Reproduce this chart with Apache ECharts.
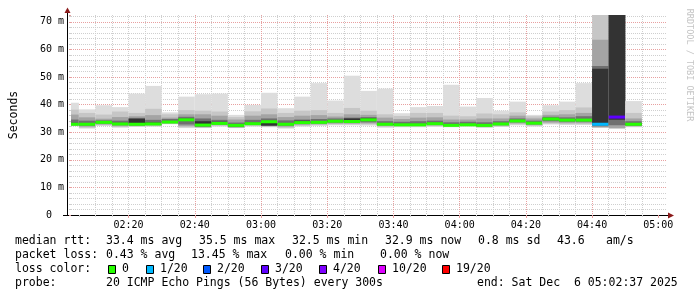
<!DOCTYPE html>
<html>
<head>
<meta charset="utf-8">
<script src="https://cdn.jsdelivr.net/npm/echarts@6/dist/echarts.min.js"></script>
<style>
html,body{margin:0;padding:0;background:#fff;}
#chart{width:697px;height:297px;}
</style>
</head>
<body>
<div id="chart"></div>
<script>
// ---- data ----
// each bar covers the 5 minutes ending at barEnd
const barEnd = ['02:05','02:10','02:15','02:20','02:25','02:30','02:35','02:40','02:45','02:50',
  '02:55','03:00','03:05','03:10','03:15','03:20','03:25','03:30','03:35','03:40',
  '03:45','03:50','03:55','04:00','04:05','04:10','04:15','04:20','04:25','04:30',
  '04:35','04:40','04:45','04:50','04:55'];
// median rtt (ms)
const median = [32.9,32.9,33.6,33.0,32.9,33.0,33.7,34.5,32.6,33.2,32.5,33.1,33.8,32.9,33.5,33.6,34.0,33.9,34.5,32.9,
  32.7,32.7,33.1,32.5,32.7,32.5,33.0,34.1,33.3,34.8,34.4,34.4,32.9,35.5,32.9];
// lost pings out of 20
const lossCount = [0,0,0,0,0,0,0,0,0,0,0,0,0,0,0,0,0,0,0,0,0,0,0,0,0,0,0,0,0,0,0,0,1,3,0];
// smoke layers (sorted ping ranges), outer -> inner (ms)
const smokeLo1 = [32.2,31.3,32.3,31.6,31.9,32.0,32.9,31.5,31.5,32.0,31.5,32.0,31.8,31.3,32.0,32.3,32.5,32.5,32.4,31.6,31.8,31.8,31.9,31.8,32.0,31.6,31.9,32.5,32.0,32.8,32.6,32.6,null,null,31.8];
const smokeHi1 = [40.7,38.3,39.8,39.1,44.0,46.8,37.2,42.9,43.8,44.0,36.3,39.9,44.3,38.7,42.9,47.8,41.5,50.5,45.0,45.8,36.9,39.1,39.5,47.2,39.3,42.4,37.8,41.1,36.3,39.8,41.1,47.8,null,null,41.3];
const smokeLo2 = [32.3,31.6,32.5,31.9,32.1,32.2,33.0,31.8,31.7,32.3,31.6,32.3,32.0,31.6,32.3,32.6,32.8,32.8,32.8,31.9,32.0,32.0,32.2,32.0,32.2,31.8,32.1,32.8,32.3,33.1,32.9,32.9,31.5,null,32.0];
const smokeHi2 = [38.2,37.0,36.4,37.5,37.0,38.5,36.5,38.0,37.8,37.5,35.5,37.6,38.6,37.0,37.8,38.0,37.0,38.8,37.8,36.5,35.9,37.0,37.0,36.0,35.8,36.8,36.5,37.2,35.8,37.5,38.0,39.0,76,null,37.0];
const smokeLo3 = [32.4,32.0,32.8,32.2,32.3,32.5,33.2,32.2,31.8,32.6,31.7,32.6,32.2,32.0,32.7,32.9,33.1,33.1,33.2,32.3,32.3,32.3,32.5,32.2,32.4,32.0,32.4,33.2,32.6,33.5,33.3,33.3,31.9,31.4,32.2];
const smokeHi3 = [36.4,35.4,34.9,35.5,35.8,36.2,35.3,36.5,36.5,36.0,34.6,36.0,36.5,35.5,36.0,36.2,35.7,36.5,36.3,35.3,34.8,35.3,35.4,34.6,34.6,35.0,35.0,36.0,35.0,36.3,36.5,37.0,63.5,76,35.0];
const smokeLo4 = [32.6,32.4,33.1,32.6,32.5,32.7,33.4,32.8,32.0,32.9,31.9,32.8,32.4,32.4,33.0,33.2,33.5,33.4,33.6,32.6,32.5,32.5,32.8,32.3,32.5,32.2,32.7,33.6,32.9,34.0,33.8,33.8,32.2,32.5,32.4];
const smokeHi4 = [34.6,34.2,34.3,34.2,35.2,34.5,34.8,35.6,35.0,34.5,33.5,34.5,35.0,34.3,34.6,34.8,35.0,35.3,35.5,34.0,33.8,34.0,34.2,33.6,33.8,33.6,34.0,35.0,34.2,35.6,35.4,35.8,54.0,76,34.0];
const smokeLo5 = [32.8,32.7,33.4,32.8,33.2,32.9,33.6,34.2,32.3,33.1,32.3,33.0,32.4,32.7,33.3,33.4,33.8,33.7,34.2,32.8,32.6,32.6,33.0,32.4,32.6,32.4,32.9,34.0,33.2,34.6,34.2,34.2,32.6,34.5,32.7];
const smokeHi5 = [33.4,33.2,33.9,33.4,34.9,33.5,34.0,34.9,34.0,33.8,32.8,33.4,33.9,33.2,34.2,33.9,34.4,35.0,35.0,33.2,33.0,33.0,33.4,32.8,33.0,32.8,33.3,34.4,33.6,35.0,34.7,34.8,53.0,76,33.1];
// loss legend
const lossLabels = ['0','1/20','2/20','3/20','4/20','10/20','19/20'];
const lossLimits = [0,1,2,3,4,10,19];
const lossColors = ['#26ff00','#00b8ff','#0059ff','#5e00ff','#7e00ff','#dd00ff','#ff0000'];
// tick labels
const xTickLabels = ['02:20','02:40','03:00','03:20','03:40','04:00','04:20','04:40','05:00'];
const yTickValues = [0,10,20,30,40,50,60,70];
const yTickLabels = ['0  ','10 m','20 m','30 m','40 m','50 m','60 m','70 m'];
const statLines = [
  [['median rtt:',16],['33.4 ms avg',107],['35.5 ms max',200],['32.5 ms min',293],['32.9 ms now',386],['0.8 ms sd',479],['43.6',558],['am/s',607]],
  [['packet loss:',16],['0.43 % avg',107],['13.45 % max',192],['0.00 % min',286],['0.00 % now',381]],
  [['loss color:',16]],
  [['probe:',16],['20 ICMP Echo Pings (56 Bytes) every 300s',107],['end: Sat Dec  6 05:02:37 2025',478]]
];

// ---- build ----
const MONO = '"DejaVu Sans Mono", "Liberation Mono", monospace';
const SMOKE_COLORS = ['#dddddd','#c6c6c6','#a4a4a4','#707070','#333333'];
// time in minutes after midnight
function tOf(hhmm){ const p = hhmm.split(':'); return (+p[0]) * 60 + (+p[1]); }
const tEnd = 5 * 60 + 2 + 37 / 60;     // 05:02:37
const tStart = tEnd - 180;
function lossColor(n){ for (let i = 0; i < lossLimits.length; i++) { if (n <= lossLimits[i]) return lossColors[i]; } return lossColors[lossColors.length-1]; }

const majorTicks = xTickLabels.map(tOf);
const minorTicks = [];
for (let t = Math.ceil(tStart / 5) * 5; t < tEnd; t += 5) minorTicks.push(t);

const data = barEnd.map((e, i) => {
  const t1 = tOf(e), t0 = t1 - 5;
  return [t0, t1, smokeLo1[i], smokeHi1[i], smokeLo2[i], smokeHi2[i], smokeLo3[i], smokeHi3[i],
          smokeLo4[i], smokeHi4[i], smokeLo5[i], smokeHi5[i], median[i], lossCount[i]];
});

function renderSmoke(params, api) {
  const t0 = api.value(0), t1 = api.value(1);
  const children = [];
  for (let k = 0; k < 5; k++) {
    const lo = api.value(2 + 2 * k), hi = api.value(3 + 2 * k);
    if (!isFinite(lo) || !isFinite(hi)) continue;
    const a = api.coord([t0, hi]), b = api.coord([t1, lo]);
    children.push({ type: 'rect', shape: { x: a[0], y: a[1], width: b[0] - a[0], height: b[1] - a[1] },
      style: { fill: SMOKE_COLORS[k] } });
  }
  const med = api.value(12), loss = api.value(13);
  const m0 = api.coord([t0, med]), m1 = api.coord([t1, med]);
  children.push({ type: 'rect', shape: { x: m0[0], y: m0[1] - 1.5, width: m1[0] - m0[0], height: 3 },
    style: { fill: lossColor(loss) } });
  return { type: 'group', children };
}

function pad(n){ return (n < 10 ? '0' : '') + n; }
function fmtTime(v){ const m = Math.round(v); return pad(Math.floor(m / 60)) + ':' + pad(m % 60); }

const graphics = [];
const lineY = [241, 255, 269, 283];
statLines.forEach((segs, li) => {
  segs.forEach(s => graphics.push({ type: 'text', silent: true, x: s[1] - 1, y: lineY[li],
    style: { text: s[0], font: '11.5px ' + MONO, fill: '#000', textVerticalAlign: 'middle', verticalAlign: 'middle' } }));
});
const boxX = [108, 146, 203, 261, 319, 378, 442];
lossLabels.forEach((lab, i) => {
  graphics.push({ type: 'rect', silent: true, shape: { x: boxX[i] + 0.5, y: 265.5, width: 7, height: 8 },
    style: { fill: lossColors[i], stroke: '#000', lineWidth: 1 } });
  graphics.push({ type: 'text', silent: true, x: boxX[i] + 14, y: 269,
    style: { text: lab, font: '11.5px ' + MONO, fill: '#000', textVerticalAlign: 'middle', verticalAlign: 'middle' } });
});
// axis extensions and arrow heads
graphics.push({ type: 'line', silent: true, shape: { x1: 67.5, y1: 215, x2: 67.5, y2: 12 }, style: { stroke: '#000', lineWidth: 1 } });
graphics.push({ type: 'line', silent: true, shape: { x1: 63, y1: 215.5, x2: 669, y2: 215.5 }, style: { stroke: '#000', lineWidth: 1 } });
graphics.push({ type: 'polygon', silent: true, shape: { points: [[67.5, 7.5], [64.5, 13], [70.5, 13]] }, style: { fill: '#8b1a1a' } });
graphics.push({ type: 'polygon', silent: true, shape: { points: [[674, 215.5], [668, 212.5], [668, 218.5]] }, style: { fill: '#8b1a1a' } });
graphics.push({ type: 'text', silent: true, x: 689, y: 65, rotation: -Math.PI / 2,
  style: { text: 'RRDTOOL / TOBI OETIKER', font: '8.5px ' + MONO, fill: '#c4c4c4', textAlign: 'center', align: 'center', textVerticalAlign: 'middle', verticalAlign: 'middle' } });

const MAJOR = '#e8a0a0', MINOR = '#cfcfcf';
const chart = echarts.init(document.getElementById('chart'), null, { renderer: 'canvas' });
chart.setOption({
  animation: false,
  backgroundColor: '#ffffff',
  grid: { left: 67, right: 30, top: 15, bottom: 82, containLabel: false },
  xAxis: [{
    type: 'value', min: tStart, max: tEnd, z: 1,
    axisLine: { show: false },
    axisTick: { show: true, length: 3, customValues: majorTicks, lineStyle: { color: MAJOR } },
    axisLabel: { show: true, margin: 5, fontFamily: MONO, fontSize: 10, color: '#000', customValues: majorTicks,
      hideOverlap: false, formatter: fmtTime },
    splitLine: { show: true, showMinLine: false, showMaxLine: false, lineStyle: { color: MAJOR, type: [1, 1], width: 1 } }
  }, {
    type: 'value', min: tStart, max: tEnd, position: 'bottom', z: 0,
    axisLine: { show: false },
    axisTick: { show: true, length: 2, customValues: minorTicks, lineStyle: { color: MINOR } },
    axisLabel: { show: false, customValues: minorTicks },
    splitLine: { show: true, showMinLine: false, showMaxLine: false, lineStyle: { color: MINOR, type: [1, 1], width: 1 } }
  }],
  yAxis: {
    type: 'value', min: 0, max: 72.5, interval: 10,
    name: 'Seconds', nameLocation: 'middle', nameGap: 51, nameRotate: 90,
    nameTextStyle: { fontFamily: MONO, fontSize: 11.5, color: '#000' },
    axisLine: { show: false },
    axisTick: { show: true, length: 2, lineStyle: { color: MAJOR } },
    minorTick: { show: true, splitNumber: 5, length: 2, lineStyle: { color: MINOR } },
    axisLabel: { margin: 7, fontFamily: MONO, fontSize: 10, color: '#000', showMaxLabel: false,
      formatter: v => { const i = yTickValues.indexOf(v); return i >= 0 ? yTickLabels[i] : ''; } },
    splitLine: { show: true, showMinLine: false, showMaxLine: false, lineStyle: { color: MAJOR, type: [1, 1], width: 1 } },
    minorSplitLine: { show: true, lineStyle: { color: MINOR, type: [1, 1], width: 1 } }
  },
  series: [{
    type: 'custom', xAxisIndex: 0, yAxisIndex: 0, silent: true, clip: true,
    renderItem: renderSmoke,
    encode: { x: [0, 1], y: 12 },
    data: data
  }],
  graphic: graphics
});
</script>
</body>
</html>
